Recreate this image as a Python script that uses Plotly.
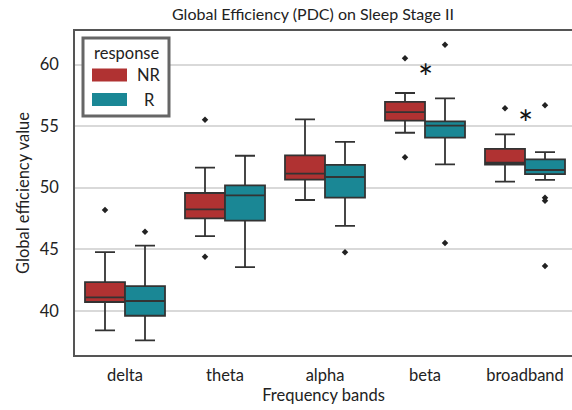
import plotly.graph_objects as go

categories = ["delta", "theta", "alpha", "beta", "broadband"]
groups = ["NR", "R"]

nr_lower = [38.4, 46.07, 49.0, 54.47, 50.49]
nr_q1 = [40.71, 47.51, 50.65, 55.45, 51.87]
nr_median = [41.09, 48.24, 51.14, 56.15, 52.03]
nr_q3 = [42.33, 49.57, 52.63, 56.97, 53.15]
nr_upper = [44.77, 51.63, 55.56, 57.7, 54.34]
nr_outliers = [[48.19], [55.53, 44.39], [], [60.52, 52.47], [56.45]]

r_lower = [37.59, 43.55, 46.89, 51.9, 50.63]
r_q1 = [39.59, 47.32, 49.19, 54.07, 51.11]
r_median = [40.79, 49.38, 50.87, 55.04, 51.44]
r_q3 = [42.0, 50.19, 51.85, 55.4, 52.31]
r_upper = [45.29, 52.6, 53.72, 57.27, 52.9]
r_outliers = [[46.42], [], [44.75], [61.63, 45.5], [56.7, 49.19, 48.94, 43.63]]

# significance marks: (category, y value)
star_categories = ["beta", "broadband"]
star_values = [59.63, 55.9]

y_ticks = [40, 45, 50, 55, 60]

colors = {"NR": "#b03232", "R": "#1a8795"}
edge = "#333333"
FONT = "Lato"
FS = 16.5

W, H = 572, 410
L, R, T, B = 75, 0, 31, 55
pw, ph = W - L - R, H - T - B


def px(xp):
    return (xp - L) / pw


def py(yp):
    return (H - B - yp) / ph


fig = go.Figure()

stats = {
    "NR": (nr_lower, nr_q1, nr_median, nr_q3, nr_upper, nr_outliers, -0.2),
    "R": (r_lower, r_q1, r_median, r_q3, r_upper, r_outliers, 0.2),
}
for g in groups:
    lo, q1, med, q3, up, outl, off = stats[g]
    xs = [i + off for i in range(len(categories))]
    fig.add_trace(go.Box(
        x=xs, q1=q1, median=med, q3=q3, lowerfence=lo, upperfence=up,
        width=0.4, whiskerwidth=0.5, boxpoints=False,
        fillcolor=colors[g], line=dict(color=edge, width=1.8),
        name=g, showlegend=False, hoverinfo="skip",
    ))
    ox, oy = [], []
    for i, vals in enumerate(outl):
        for v in vals:
            ox.append(i + off)
            oy.append(v)
    fig.add_trace(go.Scatter(
        x=ox, y=oy, mode="markers",
        marker=dict(symbol="diamond", size=5, color="#222222"),
        showlegend=False, hoverinfo="skip",
    ))

for c, v in zip(star_categories, star_values):
    fig.add_annotation(x=categories.index(c), y=v, text="*", showarrow=False,
                       xref="x", yref="y", yanchor="middle", yshift=-8,
                       font=dict(family=FONT, size=36, color="#111111"))

# legend (drawn manually to mimic seaborn patches)
fig.add_shape(type="rect", xref="paper", yref="paper",
              x0=px(83), x1=px(169), y0=py(116), y1=py(38),
              line=dict(color="#666666", width=3), fillcolor="white", layer="above")
fig.add_annotation(xref="paper", yref="paper", x=px(126), y=py(53), text="response",
                   showarrow=False, xanchor="center", yanchor="middle",
                   font=dict(family=FONT, size=FS, color="#222222"))
for g, yc in zip(groups, [75, 99.5]):
    fig.add_shape(type="rect", xref="paper", yref="paper",
                  x0=px(92), x1=px(127), y0=py(yc + 6.5), y1=py(yc - 6.5),
                  line=dict(width=0), fillcolor=colors[g], layer="above")
    fig.add_annotation(xref="paper", yref="paper", x=px(149), y=py(yc), text=g,
                       showarrow=False, xanchor="center", yanchor="middle",
                       font=dict(family=FONT, size=FS, color="#222222"))

fig.update_layout(
    width=W, height=H,
    margin=dict(l=L, r=R, t=T, b=B),
    paper_bgcolor="white", plot_bgcolor="white",
    font=dict(family=FONT, size=FS, color="#222222"),
    boxmode="overlay",
    title=dict(text="Global Efficiency (PDC) on Sleep Stage II",
               x=313 / W, xref="container", xanchor="center",
               y=1 - 14 / H, yref="container", yanchor="middle",
               font=dict(family=FONT, size=16, color="#222222")),
    xaxis=dict(
        range=[-0.5, 4.47], tickvals=list(range(len(categories))), ticktext=categories,
        showgrid=False, zeroline=False, showline=True, mirror=True,
        linecolor="#555555", linewidth=1.5,
        ticks="outside", ticklen=4, tickcolor="rgba(0,0,0,0)",
        tickfont=dict(family=FONT, size=FS, color="#222222"),
        title=dict(text="Frequency bands", standoff=4,
                   font=dict(family=FONT, size=FS, color="#222222")),
    ),
    yaxis=dict(
        range=[36.4, 62.74], tickvals=y_ticks,
        showgrid=True, gridcolor="#d9d9d9", gridwidth=1.5, zeroline=False,
        showline=True, mirror=False, linecolor="#555555", linewidth=1.5,
        ticks="outside", ticklen=11, tickcolor="rgba(0,0,0,0)",
        tickfont=dict(family=FONT, size=FS, color="#222222"),
        title=dict(text="Global efficiency value", standoff=6,
                   font=dict(family=FONT, size=FS, color="#222222")),
    ),
)

fig.write_html("out.html", config={"displayModeBar": False},
               post_script="document.body.style.margin='0px';"
                           "document.body.style.overflow='hidden';")
